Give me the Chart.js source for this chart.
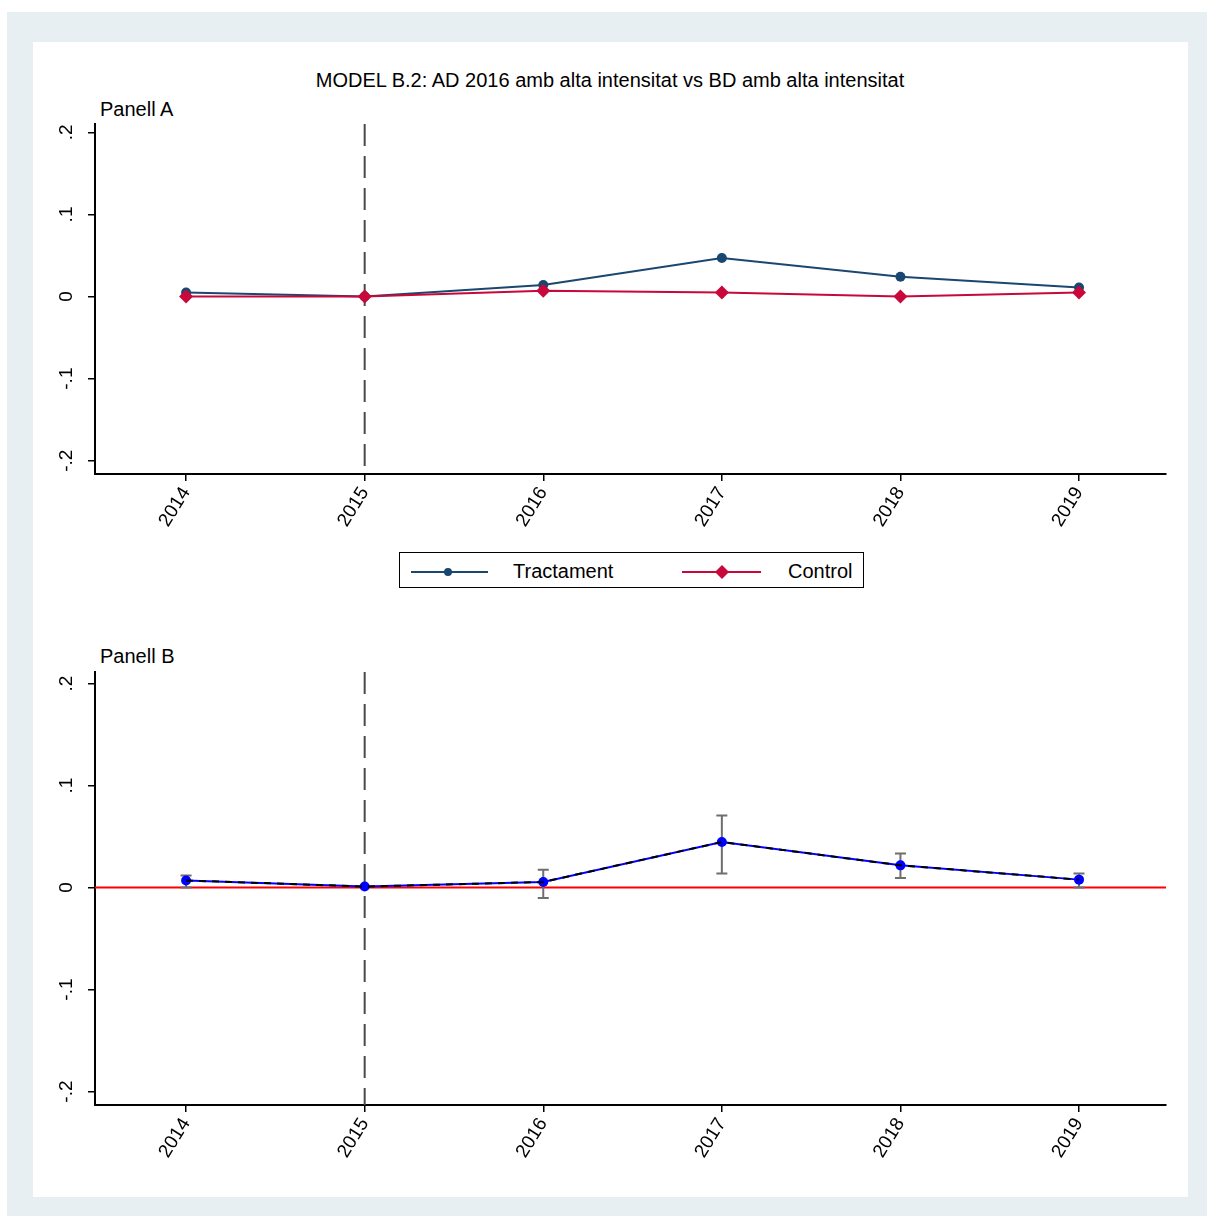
<!DOCTYPE html>
<html>
<head>
<meta charset="utf-8">
<script src="https://cdn.jsdelivr.net/npm/chart.js@4.4.1/dist/chart.umd.min.js"></script>
<style>
  html, body { margin: 0; padding: 0; background: #ffffff; width: 1207px; height: 1216px; overflow: hidden;
    font-family: "Liberation Sans", Arial, sans-serif; color: #000; }
  #frame { position: absolute; left: 7px; top: 12px; width: 1200px; height: 1204px; background: #e8eff2; }
  #inner { position: absolute; left: 33px; top: 42px; width: 1155px; height: 1155px; background: #ffffff; }
  .txt { position: absolute; white-space: nowrap; font-size: 20px; line-height: 20px; color: #000; }
  #title { left: 0; width: 1220px; text-align: center; top: 70px; }
  canvas { position: absolute; }
  #legend { position: absolute; left: 399px; top: 552px; width: 463px; height: 34px; border: 1.5px solid #000; background: #fff; }
  #legend svg { position: absolute; left: 0; top: 0; }
  #legend .lt { position: absolute; top: 8px; font-size: 20px; line-height: 20px; }
</style>
</head>
<body>
<div id="frame"></div>
<div id="inner"></div>
<div id="title" class="txt">MODEL B.2: AD 2016 amb alta intensitat vs BD amb alta intensitat</div>
<div class="txt" style="left:100px; top:99px;">Panell A</div>
<div class="txt" style="left:100px; top:646px;">Panell B</div>

<canvas id="panelA" width="1155" height="490" style="left:33px; top:60px;"></canvas>
<canvas id="panelB" width="1155" height="576" style="left:33px; top:620px;"></canvas>

<div id="legend">
  <svg width="466" height="37">
    <line x1="11" y1="19" x2="88" y2="19" stroke="#1a476f" stroke-width="2"/>
    <circle cx="48" cy="19" r="4" fill="#1a476f"/>
    <line x1="282" y1="19" x2="361" y2="19" stroke="#c8073a" stroke-width="2"/>
    <polygon points="322,12 329,19 322,26 315,19" fill="#c8073a"/>
  </svg>
  <span class="lt" style="left:113px;">Tractament</span>
  <span class="lt" style="left:388px;">Control</span>
</div>

<script>
// Years on the horizontal axis
const years = [2014, 2015, 2016, 2017, 2018, 2019];
const eventYear = 2015;

// Panel A: mean outcome by group
const tractament = [0.005, 0.0, 0.014, 0.047, 0.024, 0.011];
const control    = [0.0, 0.0, 0.007, 0.005, 0.0, 0.005];

// Panel B: difference estimates with confidence bounds (no bound for the reference year)
const estimate = [0.007, 0.001, 0.0055, 0.0447, 0.0218, 0.0078];
const ciLow    = [0.0, null, -0.0102, 0.0137, 0.0095, 0.0];
const ciHigh   = [0.0118, null, 0.0175, 0.0707, 0.0333, 0.0137];

// Axis tick values and their labels
const yTicks      = [-0.2, -0.1, 0, 0.1, 0.2];
const yTickLabels = ['-.2', '-.1', '0', '.1', '.2'];

Chart.defaults.font.family = "'Liberation Sans', Arial, sans-serif";
Chart.defaults.color = '#000';

const pts = (xs, ys) => xs.map((x, i) => ({ x: x, y: ys[i] }));

// Vertical dashed line at the event year
const eventLine = {
  id: 'eventLine',
  beforeDatasetsDraw(chart) {
    const { ctx, chartArea, scales } = chart;
    const px = scales.x.getPixelForValue(eventYear);
    ctx.save();
    ctx.strokeStyle = '#4a4a4a';
    ctx.lineWidth = 2;
    ctx.setLineDash([22, 10]);
    ctx.beginPath();
    ctx.moveTo(px, chartArea.top);
    ctx.lineTo(px, chartArea.bottom);
    ctx.stroke();
    ctx.restore();
  }
};

// Y tick labels, turned to read upwards
const yLabels = {
  id: 'yLabels',
  afterDraw(chart) {
    const { ctx, chartArea, scales } = chart;
    ctx.save();
    ctx.font = "19px 'Liberation Sans', Arial, sans-serif";
    ctx.fillStyle = '#000';
    ctx.textAlign = 'center';
    ctx.textBaseline = 'alphabetic';
    yTicks.forEach((v, i) => {
      const py = scales.y.getPixelForValue(v);
      ctx.save();
      ctx.translate(chartArea.left - 23, py);
      ctx.rotate(-Math.PI / 2);
      ctx.fillText(yTickLabels[i], 0, 0);
      ctx.restore();
    });
    ctx.restore();
  }
};

// Confidence interval bars for panel B, drawn just after the zero line
const errorBars = {
  id: 'errorBars',
  afterDatasetDraw(chart, args) {
    if (args.index !== 0) return;
    const { ctx, scales } = chart;
    ctx.save();
    ctx.strokeStyle = '#6e6e6e';
    ctx.lineWidth = 2;
    years.forEach((yr, i) => {
      if (ciLow[i] === null) return;
      const px = scales.x.getPixelForValue(yr);
      const lo = scales.y.getPixelForValue(ciLow[i]);
      const hi = scales.y.getPixelForValue(ciHigh[i]);
      ctx.beginPath();
      ctx.moveTo(px, lo); ctx.lineTo(px, hi);
      ctx.moveTo(px - 5.5, lo); ctx.lineTo(px + 5.5, lo);
      ctx.moveTo(px - 5.5, hi); ctx.lineTo(px + 5.5, hi);
      ctx.stroke();
    });
    ctx.restore();
  }
};

function axes(yMin, yMax, yWidth, xHeight) {
  const grid = { drawOnChartArea: false, drawTicks: true, tickLength: 7, color: '#000', lineWidth: 1.5 };
  const border = { display: true, color: '#000', width: 2 };
  return {
    x: {
      type: 'linear', min: 2013.49, max: 2019.487,
      grid: grid, border: border,
      afterBuildTicks: s => { s.ticks = years.map(v => ({ value: v })); },
      afterFit: s => { s.height = xHeight; },
      ticks: { autoSkip: false, minRotation: 58, maxRotation: 58, padding: 2,
               font: { size: 19 }, color: '#000', callback: v => String(v) }
    },
    y: {
      type: 'linear', min: yMin, max: yMax,
      grid: grid, border: border,
      afterBuildTicks: s => { s.ticks = yTicks.map(v => ({ value: v })); },
      afterFit: s => { s.width = yWidth; },
      ticks: { display: false }
    }
  };
}

const common = {
  responsive: false, animation: false, devicePixelRatio: 1,
  plugins: { legend: { display: false }, tooltip: { enabled: false } },
  elements: { line: { tension: 0 } }
};

new Chart(document.getElementById('panelA'), {
  type: 'line',
  data: {
    datasets: [
      { label: 'Control', data: pts(years, control), borderColor: '#c8073a', backgroundColor: '#c8073a',
        borderWidth: 2, pointStyle: 'rectRot', pointRadius: 7, pointBorderWidth: 0, order: 0 },
      { label: 'Tractament', data: pts(years, tractament), borderColor: '#1a476f', backgroundColor: '#1a476f',
        borderWidth: 2, pointStyle: 'circle', pointRadius: 5, pointBorderWidth: 0, order: 1 }
    ]
  },
  options: Object.assign({}, common, {
    layout: { padding: { left: 0, top: 64, right: 22, bottom: 0 } },
    scales: axes(-0.2162, 0.2102, 62, 76)
  }),
  plugins: [eventLine, yLabels]
});

new Chart(document.getElementById('panelB'), {
  type: 'line',
  data: {
    datasets: [
      { label: 'zero', data: [{ x: 2013.49, y: 0 }, { x: 2019.487, y: 0 }], borderColor: '#ff0000',
        borderWidth: 2, pointRadius: 0, order: 3 },
      { label: 'estimate', data: pts(years, estimate), borderColor: '#0000ff', backgroundColor: '#0000ff',
        borderWidth: 2, pointRadius: 5, pointBorderWidth: 0, order: 1 },
      { label: 'fit', data: pts(years, estimate), borderColor: '#000000', borderDash: [7, 6],
        borderWidth: 2, pointRadius: 0, order: 0 }
    ]
  },
  options: Object.assign({}, common, {
    layout: { padding: { left: 0, top: 52, right: 22, bottom: 0 } },
    scales: axes(-0.2132, 0.2114, 62, 91)
  }),
  plugins: [eventLine, yLabels, errorBars]
});
</script>
</body>
</html>
